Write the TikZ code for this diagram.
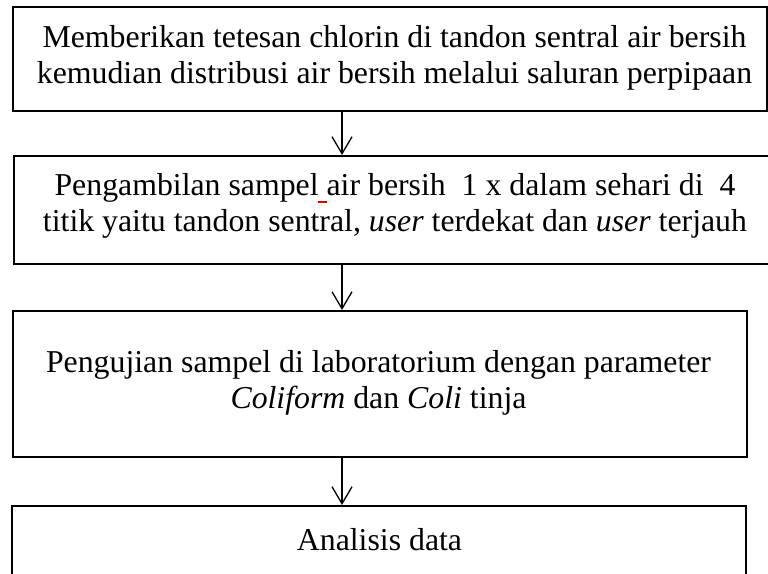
\documentclass[tikz,border=0pt]{standalone}
\usepackage{fontspec}
\setmainfont{Liberation Serif}
\usetikzlibrary{arrows.meta}
\begin{document}
\begin{tikzpicture}[x=1pt,y=-1pt,
  box/.style={draw,line width=2pt,rectangle,inner sep=0pt},
  txt/.style={anchor=base,inner sep=0pt,font=\fontsize{31.8}{36}\selectfont},
  flow/.style={line width=1.3pt,-{Straight Barb[length=17pt,width=20pt]}}]
\useasboundingbox (0,0) rectangle (768,573);
\fill[white] (0,0) rectangle (768,573);
\node[box,minimum width=754pt,minimum height=104pt] (b1) at (390,59) {};
\node[box,minimum width=756pt,minimum height=108pt] (b2) at (392,210) {};
\node[box,minimum width=734pt,minimum height=146pt] (b3) at (380,384) {};
\node[box,minimum width=734pt,minimum height=84pt] (b4) at (379,548) {};
\node[txt] (t1a) at (394.5,47) {Memberikan tetesan chlorin di tandon sentral air bersih};
\node[txt] (t1b) at (394.5,83) {kemudian distribusi air bersih melalui saluran perpipaan};
\node[txt] (t2a) at (395,195) {Pengambilan sampel air bersih\ \ 1 x dalam sehari di\ \ 4};
\node[txt] (t2b) at (395,231) {titik yaitu tandon sentral, \textit{user} terdekat dan \textit{user} terjauh};
\node[txt] (t3a) at (378.5,372) {Pengujian sampel di laboratorium dengan parameter};
\node[txt] (t3b) at (378.5,408) {\textit{Coliform} dan \textit{Coli} tinja};
\node[txt] (t4) at (379.5,550) {Analisis data};
\draw[red!85!black,line width=1.5pt] (318,202) -- (327,202);
\coordinate (ax) at (342,0);
\draw[flow] (b1.south -| ax) -- (b2.north -| ax);
\draw[flow] (b2.south -| ax) -- (b3.north -| ax);
\draw[flow] (b3.south -| ax) -- (b4.north -| ax);
\end{tikzpicture}
\end{document}
